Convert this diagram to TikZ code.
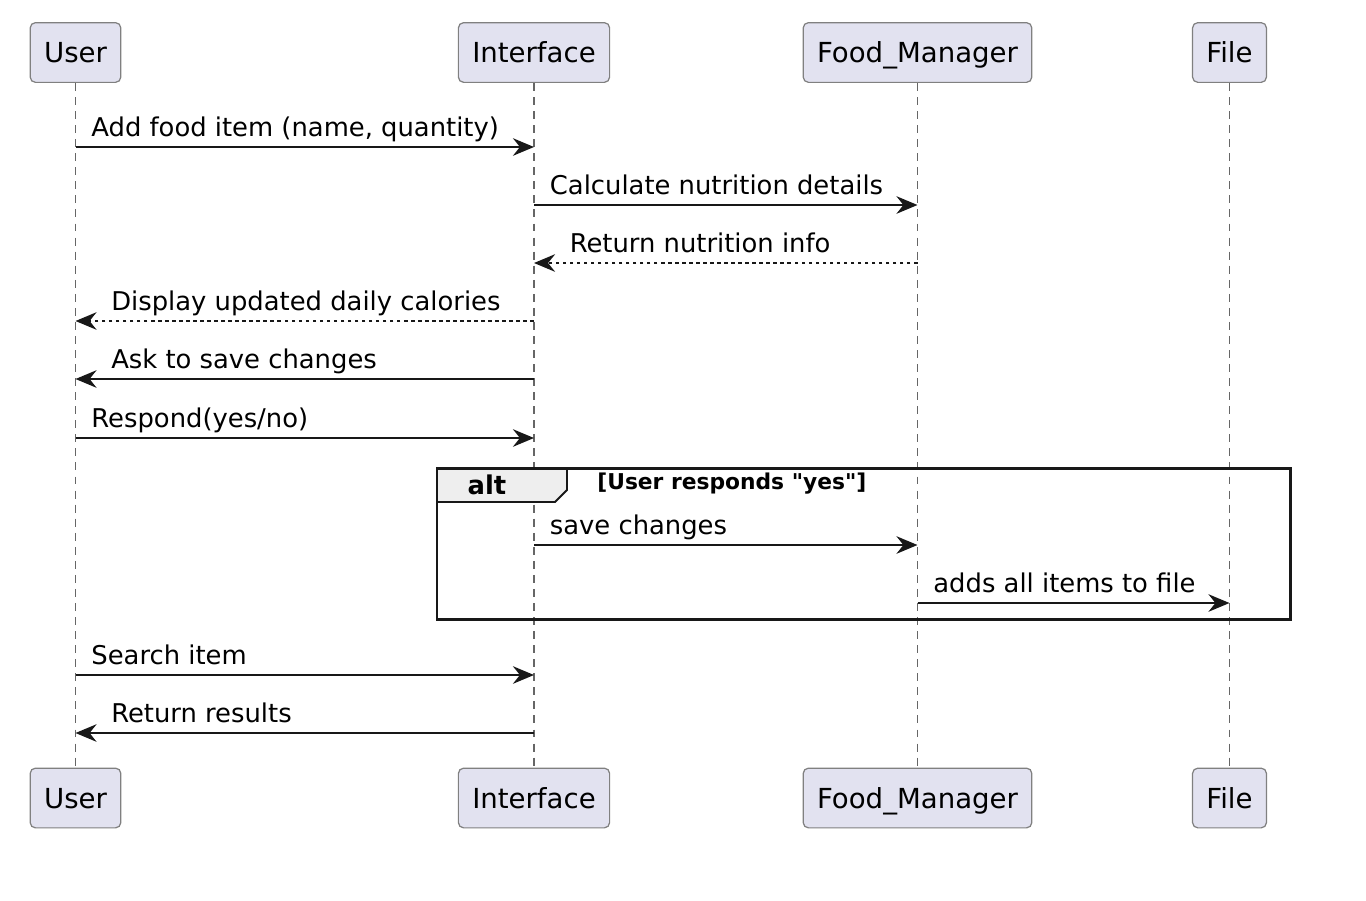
\documentclass[tikz,border=0pt]{standalone}
\usepackage{fontspec}
\setmainfont{DejaVu Sans}[Ligatures=TeXOff]
\usetikzlibrary{arrows.meta,positioning}
\definecolor{partfill}{HTML}{E2E2F0}
\definecolor{linegray}{HTML}{181818}
\definecolor{tabfill}{HTML}{EEEEEE}

\tikzset{
  part/.style={rectangle,rounded corners=3pt,draw=black!50,line width=0.7pt,fill=partfill,
    minimum height=34pt,inner xsep=7.9pt,text height=13.5pt,text depth=1.8pt,
    font=\fontsize{15.7}{18}\selectfont},
  life/.style={draw=black!60,line width=0.6pt,dash pattern=on 4.5pt off 3.5pt},
  msg/.style={draw=linegray,line width=1.1pt,-{Stealth[length=12pt,width=10pt,inset=4pt]}},
  reply/.style={msg,dash pattern=on 2pt off 2pt},
  lblr/.style={anchor=base west,inner sep=0pt,xshift=8.5pt,yshift=6.2pt,font=\fontsize{14.7}{17}\selectfont},
  lbll/.style={anchor=base west,inner sep=0pt,xshift=19.8pt,yshift=6.2pt,font=\fontsize{14.7}{17}\selectfont},
}

\begin{document}
\begin{tikzpicture}[x=0.02cm,y=-0.02cm]
\useasboundingbox (0,0) rectangle (1366,900);

% participants
\node[part] (ut) at (75.5,52.5) {User};
\node[part] (it) at (534,52.5) {Interface};
\node[part] (ft) at (917.5,52.5) {Food\_Manager};
\node[part] (lt) at (1229.5,52.5) {File};
\node[part] (ub) at (75.5,798) {User};
\node[part] (ib) at (534,798) {Interface};
\node[part] (fb) at (917.5,798) {Food\_Manager};
\node[part] (lb) at (1229.5,798) {File};

% lifelines
\draw[life] (ut) -- (ub);
\draw[life] (it) -- (ib);
\draw[life] (ft) -- (fb);
\draw[life] (lt) -- (lb);

% message rows
\coordinate (r1) at (0,147);
\coordinate (r2) at (0,205);
\coordinate (r3) at (0,263);
\coordinate (r4) at (0,321);
\coordinate (r5) at (0,379);
\coordinate (r6) at (0,438);
\coordinate (r7) at (0,545);
\coordinate (r8) at (0,603);
\coordinate (r9) at (0,675);
\coordinate (r10) at (0,733);

% alt frame
\coordinate (altnw) at (437,468);
\coordinate (altse) at (1290,619);
\coordinate (tabe) at (567,468);
\coordinate (tabs) at (437,502);
\draw[fill=tabfill,draw=linegray,line width=1.1pt] (altnw) -- (tabe) -- ++(0,22) -- ++(-12,12) -- (tabs) -- cycle;
\draw[draw=linegray,line width=1.7pt] (altnw) rectangle (altse);
\node[font=\bfseries\fontsize{14.7}{17}\selectfont,inner sep=0pt] (altkw) at (487,485) {alt};
\node[font=\bfseries\fontsize{12.4}{15}\selectfont,anchor=west,inner sep=0pt] (guard) at (597,484)
  {[User responds "yes"]};

% messages
\draw[msg] (ut |- r1) -- (it |- r1) node[at start,lblr] {Add food item (name, quantity)};
\draw[msg] (it |- r2) -- (ft |- r2) node[at start,lblr] {Calculate nutrition details};
\draw[reply] (ft |- r3) -- (it |- r3) node[at end,lbll] {Return nutrition info};
\draw[reply] (it |- r4) -- (ut |- r4) node[at end,lbll] {Display updated daily calories};
\draw[msg] (it |- r5) -- (ut |- r5) node[at end,lbll] {Ask to save changes};
\draw[msg] (ut |- r6) -- (it |- r6) node[at start,lblr] {Respond(yes/no)};
\draw[msg] (it |- r7) -- (ft |- r7) node[at start,lblr] {save changes};
\draw[msg] (ft |- r8) -- (lt |- r8) node[at start,lblr] {adds all items to file};
\draw[msg] (ut |- r9) -- (it |- r9) node[at start,lblr] {Search item};
\draw[msg] (it |- r10) -- (ut |- r10) node[at end,lbll] {Return results};

\end{tikzpicture}
\end{document}
